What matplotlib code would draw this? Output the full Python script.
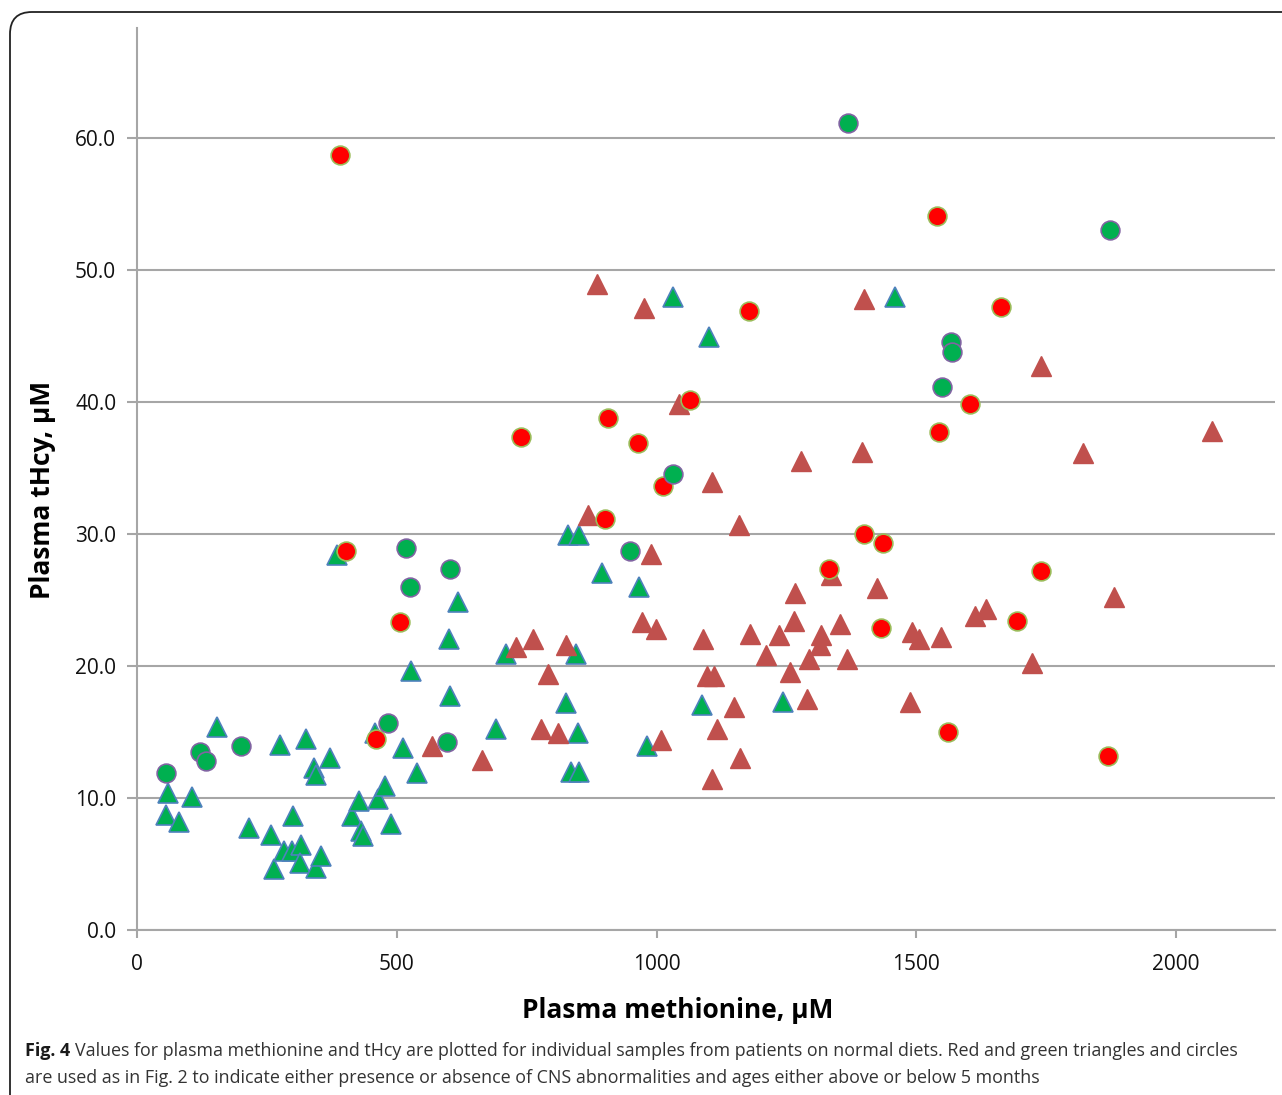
import matplotlib
matplotlib.use("Agg")
import matplotlib.pyplot as plt
from matplotlib.patches import FancyBboxPatch

plt.rcParams['font.family'] = ['Open Sans', 'DejaVu Sans']

# green triangles
tri_green_x = [56, 60, 81, 106, 154, 215, 258, 263, 275, 283, 300, 298, 315, 313, 325,
               340, 344, 344, 354, 371, 385, 413, 427, 431, 435, 463, 477, 488, 458, 512,
               527, 538, 600, 602, 617, 690, 710, 829, 850, 825, 844, 848, 835, 850, 894,
               967, 981, 1031, 1100, 1088, 1244, 1458]
tri_green_y = [8.7, 10.4, 8.2, 10.1, 15.4, 7.7, 7.2, 4.6, 14.0, 6.0, 8.6, 6.0, 6.4, 5.1, 14.5,
               12.3, 11.7, 4.7, 5.6, 13.0, 28.4, 8.6, 9.8, 7.5, 7.1, 9.9, 10.9, 8.0, 14.9, 13.8,
               19.6, 11.9, 22.0, 17.7, 24.8, 15.2, 20.9, 29.9, 29.9, 17.2, 20.9, 14.9, 12.0, 12.0, 27.0,
               26.0, 13.9, 47.9, 44.9, 17.0, 17.3, 47.9]

# red triangles
tri_red_x = [567, 663, 729, 762, 777, 790, 810, 825, 867, 885, 975, 971, 990, 998, 1008,
             1044, 1090, 1096, 1110, 1106, 1106, 1117, 1148, 1158, 1160, 1179, 1210, 1235, 1256, 1265,
             1267, 1277, 1290, 1294, 1315, 1317, 1335, 1352, 1367, 1396, 1400, 1425, 1488, 1492, 1504,
             1548, 1613, 1633, 1723, 1740, 1821, 1881, 2069]
tri_red_y = [13.9, 12.9, 21.4, 22.0, 15.2, 19.4, 14.9, 21.6, 31.4, 48.9, 47.1, 23.3, 28.5, 22.8, 14.4,
             39.8, 22.0, 19.2, 19.2, 11.4, 33.9, 15.2, 16.9, 30.7, 13.0, 22.4, 20.8, 22.3, 19.5, 23.4,
             25.5, 35.5, 17.5, 20.5, 21.6, 22.3, 26.9, 23.2, 20.5, 36.2, 47.8, 25.9, 17.3, 22.6, 22.0,
             22.2, 23.8, 24.3, 20.2, 42.7, 36.1, 25.2, 37.8]

# green circles
circ_green_x = [56, 121, 133, 200, 483, 517, 525, 596, 602, 948, 1031, 1369, 1550, 1567, 1569, 1873]
circ_green_y = [11.9, 13.5, 12.8, 13.9, 15.7, 28.9, 26.0, 14.2, 27.3, 28.7, 34.5, 61.1, 41.1, 44.5, 43.8, 53.0]

# red circles
circ_red_x = [390, 402, 460, 506, 738, 900, 906, 965, 1012, 1065, 1177, 1331, 1400, 1435, 1431,
              1540, 1544, 1560, 1604, 1663, 1694, 1740, 1869]
circ_red_y = [58.7, 28.7, 14.5, 23.3, 37.3, 31.1, 38.8, 36.9, 33.6, 40.1, 46.9, 27.3, 30.0, 29.3, 22.9,
              54.1, 37.7, 15.0, 39.8, 47.2, 23.4, 27.2, 13.2]

x_ticks = [0, 500, 1000, 1500, 2000]
y_ticks = [0, 10, 20, 30, 40, 50, 60]

fig = plt.figure(figsize=(12.82, 10.95), dpi=100)

# outer rounded frame
frame = FancyBboxPatch((0.10, -0.6), 13.5, 11.43,
                       boxstyle="round,pad=0,rounding_size=0.22",
                       transform=fig.dpi_scale_trans, fill=False,
                       edgecolor="#222222", linewidth=1.3)
fig.patches.append(frame)

ax = fig.add_axes([0.1069, 0.1507, 0.8876, 0.8237])

ax.plot(tri_green_x, tri_green_y, "^", ms=14.5, mfc="#00B050", mec="#4F81BD", mew=1.2, ls="none", zorder=3)
ax.plot(tri_red_x, tri_red_y, "^", ms=14.5, mfc="#C0504D", mec="#C0504D", mew=1.0, ls="none", zorder=3)
ax.plot(circ_red_x, circ_red_y, "o", ms=13.5, mfc="#FF0000", mec="#9BBB59", mew=1.2, ls="none", zorder=4)
ax.plot(circ_green_x, circ_green_y, "o", ms=13.5, mfc="#00B050", mec="#8064A2", mew=1.2, ls="none", zorder=4)

ax.set_xlim(0, 2190)
ax.set_ylim(0, 68.3)
ax.set_xticks(x_ticks)
ax.set_yticks(y_ticks)
ax.set_yticklabels(["%.1f" % v for v in y_ticks])

grid_col = "#A6A6A6"
ax.yaxis.grid(True, color=grid_col, linewidth=1.5)
ax.set_axisbelow(True)
for s in ["top", "right"]:
    ax.spines[s].set_visible(False)
for s in ["left", "bottom"]:
    ax.spines[s].set_color(grid_col)
    ax.spines[s].set_linewidth(1.5)
ax.tick_params(axis="y", colors=grid_col, length=7, width=1.5, labelcolor="#111111", labelsize=15, pad=8)
ax.tick_params(axis="x", colors=grid_col, length=6, width=1.5, labelcolor="#111111", labelsize=15, pad=11)

fig.text(0.529, 0.0776, "Plasma methionine, µM", ha="center", va="center",
         fontsize=19, fontweight="bold", color="#000000")
fig.text(0.0328, 0.5525, "Plasma tHcy, µM", ha="center", va="center", rotation=90,
         fontsize=19, fontweight="bold", color="#000000")

# caption
cap_size = 12.85
t = fig.text(25 / 1282, 1 - 1051 / 1095, "Fig. 4", ha="left", va="center",
             fontsize=cap_size, fontweight="bold", color="#1a1a1a")
r = fig.canvas.get_renderer()
bb = t.get_window_extent(renderer=r)
fig.text((bb.x1 + 5) / fig.bbox.width, 1 - 1051 / 1095,
         "Values for plasma methionine and tHcy are plotted for individual samples from patients on normal diets. "
         "Red and green triangles and circles",
         ha="left", va="center", fontsize=cap_size, color="#333333")
fig.text(25 / 1282, 1 - 1078 / 1095,
         "are used as in Fig. 2 to indicate either presence or absence of CNS abnormalities and ages either above or below 5 months",
         ha="left", va="center", fontsize=cap_size, color="#333333")

fig.savefig("out.png", dpi=100)
